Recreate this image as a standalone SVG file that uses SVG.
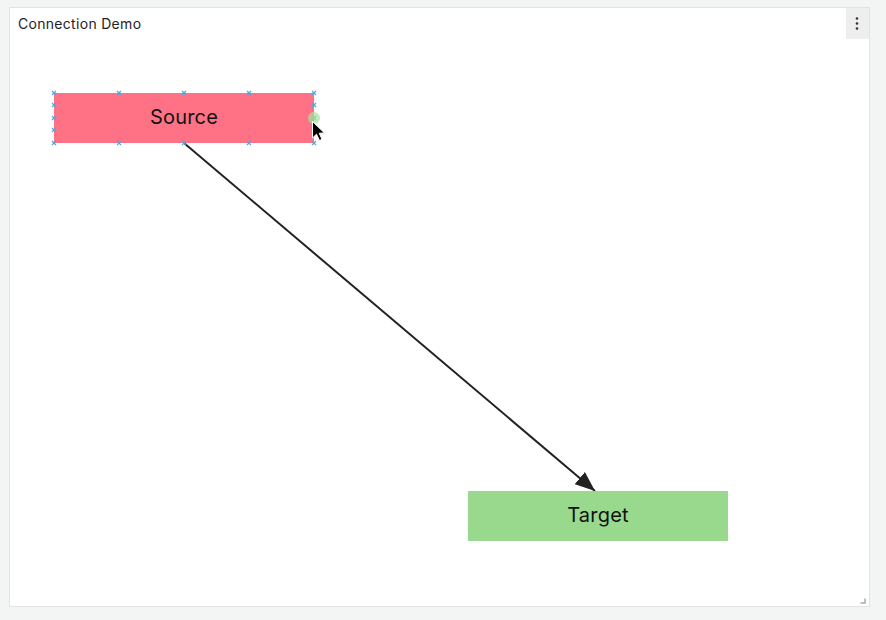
<svg xmlns="http://www.w3.org/2000/svg" width="886" height="620" viewBox="0 0 886 620">
<style>
.title{font-family:Inter,"Liberation Sans",sans-serif;font-size:14px;font-weight:400;fill:#1f2328;letter-spacing:0.3px}
.label{font-family:Inter,"Liberation Sans",sans-serif;font-size:20px;fill:#111;text-anchor:middle;letter-spacing:0.2px}
.h{stroke:#4da6e0;stroke-width:1.2}
</style>
<defs>
<marker id="arrow" viewBox="0 0 20 16" refX="20" refY="8" markerWidth="20" markerHeight="16" markerUnits="userSpaceOnUse" orient="auto">
<path d="M0,0 L20,8 L0,16 z" fill="#222"/>
</marker>
<g id="hx"><path class="h" d="M-2,-2 L2,2 M-2,2 L2,-2"/></g>
</defs>
<rect width="886" height="620" fill="#f3f4f4"/>
<rect x="9.5" y="7.5" width="860" height="599" fill="#fff" stroke="#e2e4e4"/>
<text class="title" x="18" y="29">Connection Demo</text>
<g id="menu">
<rect x="846" y="8" width="23" height="31" fill="#eeeeee"/>
<circle cx="857" cy="18.5" r="1.3" fill="#333"/>
<circle cx="857" cy="23.5" r="1.3" fill="#333"/>
<circle cx="857" cy="28.5" r="1.3" fill="#333"/>
</g>
<path d="M860.5,603 H865 V598.5" fill="none" stroke="#aaa" stroke-width="1.5"/>
<g id="connectors">
<line x1="184" y1="143" x2="595" y2="491" stroke="#222" stroke-width="2" marker-end="url(#arrow)"/>
</g>
<g id="source">
<rect x="54" y="93" width="260" height="50" fill="#ff7285"/>
<text class="label" x="184" y="124">Source</text>
<use href="#hx" x="54" y="93"/><use href="#hx" x="119" y="93"/><use href="#hx" x="184" y="93"/><use href="#hx" x="249" y="93"/><use href="#hx" x="314" y="93"/>
<use href="#hx" x="54" y="143"/><use href="#hx" x="119" y="143"/><use href="#hx" x="184" y="143"/><use href="#hx" x="249" y="143"/><use href="#hx" x="314" y="143"/>
<use href="#hx" x="54" y="105"/><use href="#hx" x="54" y="118"/><use href="#hx" x="54" y="130"/>
<use href="#hx" x="314" y="105"/><use href="#hx" x="314" y="118"/><use href="#hx" x="314" y="130"/>
<circle cx="314" cy="118" r="6" fill="#a6e39a" opacity="0.7"/>
</g>
<g id="target">
<rect x="468" y="491" width="260" height="50" fill="#98d98e"/>
<text class="label" x="598" y="522">Target</text>
</g>
<g id="cursor">
<path d="M312.5,121.5 L312.5,138 L316.5,134.2 L319.5,140.5 L322,139.3 L319.2,133.2 L324.5,133 Z" fill="#000" stroke="#fff" stroke-width="1"/>
</g>
</svg>
